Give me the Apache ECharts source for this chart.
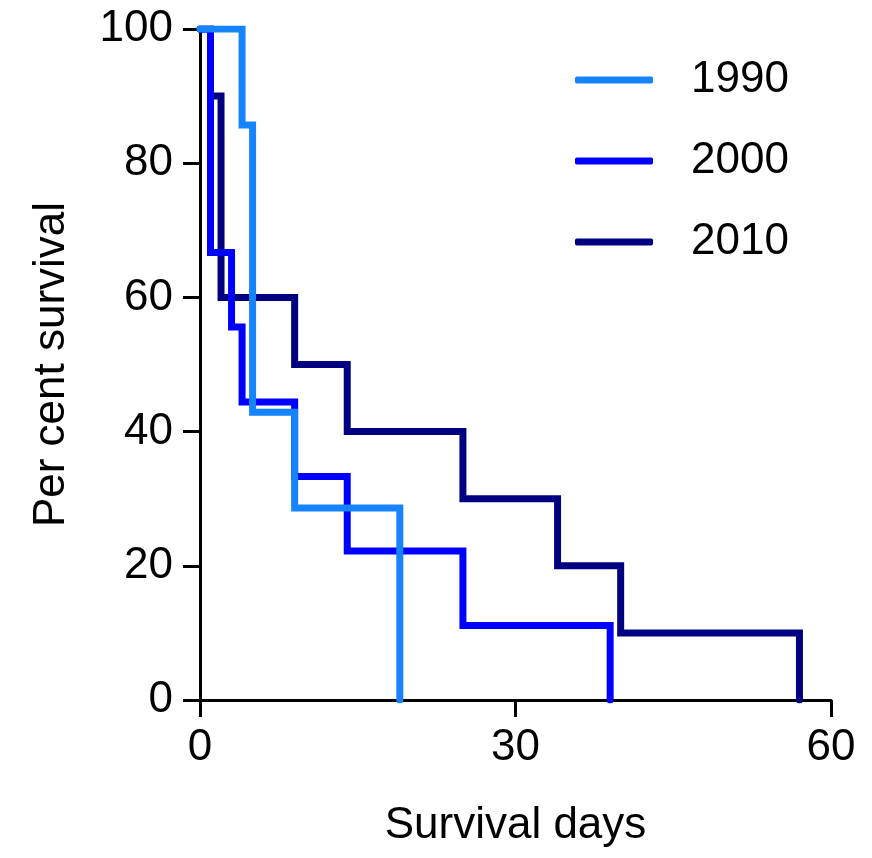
<!DOCTYPE html>
<html>
<head>
<meta charset="utf-8">
<script src="https://cdn.jsdelivr.net/npm/echarts@6/dist/echarts.min.js"></script>
<style>
  html, body { margin: 0; padding: 0; background: #fff; }
</style>
</head>
<body>
<div id="main" style="width: 872px; height: 858px"></div>
<script>
// Kaplan-Meier steps: day of each step and the survival after it
var days1990 = [0, 4, 5, 9, 19];
var surv1990 = [100, 85.7, 42.9, 28.6, 0];
var days2000 = [0, 1, 3, 4, 9, 14, 25, 39];
var surv2000 = [100, 66.7, 55.6, 44.4, 33.3, 22.2, 11.1, 0];
var days2010 = [0, 1, 2, 9, 14, 25, 34, 40, 57];
var surv2010 = [100, 90, 60, 50, 40, 30, 20, 10, 0];
var seriesNames = ["1990", "2000", "2010"];
var colors = ["#1683FF", "#0000FF", "#000080"];

function pairs(xs, ys) {
  return xs.map(function (x, i) {
    return [x, ys[i]];
  });
}

function stepSeries(name, color, data) {
  return {
    name: name,
    type: "line",
    step: "end",
    data: data,
    showSymbol: false,
    symbol: "none",
    color: color,
    lineStyle: { color: color, width: 7, cap: "round", join: "miter" },
  };
}

var font = "'Liberation Sans', Arial, sans-serif";
var chartDom = document.getElementById("main");
var myChart = echarts.init(chartDom);
var option = {
  animation: false,
  textStyle: { fontFamily: font },
  grid: { left: 200, right: 41, top: 29, bottom: 158 },
  legend: {
    data: seriesNames,
    orient: "vertical",
    left: 575,
    top: 58,
    padding: 0,
    icon: "roundRect",
    itemWidth: 78,
    itemHeight: 7,
    itemGap: 37,
    textStyle: {
      fontFamily: font,
      fontSize: 44,
      lineHeight: 44,
      color: "#000",
      padding: [0, 0, 0, 33],
    },
  },
  xAxis: {
    type: "value",
    min: 0,
    max: 60,
    interval: 30,
    name: "Survival days",
    nameLocation: "middle",
    nameGap: 104,
    nameTextStyle: { fontFamily: font, fontSize: 44, color: "#000" },
    axisLine: { show: true, lineStyle: { color: "#000", width: 3 } },
    axisTick: { show: true, length: 17, lineStyle: { color: "#000", width: 3 } },
    axisLabel: { fontFamily: font, fontSize: 44, color: "#000", margin: 26 },
    splitLine: { show: false },
  },
  yAxis: {
    type: "value",
    min: 0,
    max: 100,
    interval: 20,
    name: "Per cent survival",
    nameLocation: "middle",
    nameGap: 126,
    nameTextStyle: { fontFamily: font, fontSize: 44, color: "#000" },
    axisLine: { show: true, lineStyle: { color: "#000", width: 3 } },
    axisTick: { show: true, length: 17, lineStyle: { color: "#000", width: 3 } },
    axisLabel: { fontFamily: font, fontSize: 44, color: "#000", margin: 27 },
    splitLine: { show: false },
  },
  // drawn back to front: 2010 under 2000 under 1990
  series: [
    stepSeries("2010", colors[2], pairs(days2010, surv2010)),
    stepSeries("2000", colors[1], pairs(days2000, surv2000)),
    stepSeries("1990", colors[0], pairs(days1990, surv1990)),
  ],
};
myChart.setOption(option);
</script>
</body>
</html>
